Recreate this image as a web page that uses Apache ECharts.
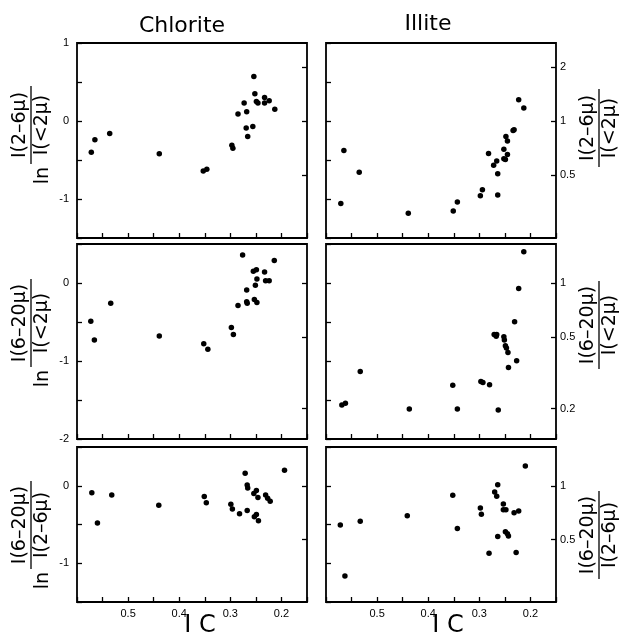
<!DOCTYPE html>
<html>
<head>
<meta charset="utf-8">
<script src="https://cdn.jsdelivr.net/npm/echarts@6/dist/echarts.min.js"></script>
<style>html,body{margin:0;padding:0;background:#fff}#c{width:624px;height:637px}</style>
</head>
<body>
<div id="c"></div>
<script>
// ---- data (IC on x; left column: ln ratio; right column: ratio, log scale) ----
const colTitles = ['Chlorite', 'Illite'];
const xTickLabels = [0.5, 0.4, 0.3, 0.2];

const chl26_ic = [0.572,0.565,0.536,0.439,0.353,0.346,0.297,0.295,0.285,0.273,0.268,0.269,0.266,0.256,0.254,0.252,0.249,0.246,0.233,0.233,0.224,0.213];
const chl26_ln = [-0.40,-0.24,-0.16,-0.42,-0.64,-0.62,-0.31,-0.35,0.09,0.23,0.12,-0.09,-0.20,-0.07,0.57,0.35,0.25,0.23,0.30,0.23,0.26,0.15];

const ill26_ic = [0.571,0.565,0.535,0.439,0.351,0.343,0.298,0.294,0.282,0.272,0.266,0.264,0.264,0.252,0.252,0.249,0.248,0.245,0.245,0.234,0.232,0.223,0.213];
const ill26_r  = [0.347,0.685,0.519,0.306,0.315,0.354,0.384,0.414,0.660,0.567,0.599,0.508,0.387,0.617,0.697,0.611,0.821,0.651,0.774,0.885,0.893,1.314,1.183];

const chl620_ic = [0.573,0.566,0.534,0.439,0.352,0.344,0.298,0.294,0.285,0.276,0.268,0.268,0.267,0.255,0.251,0.253,0.249,0.248,0.248,0.233,0.231,0.224,0.214];
const chl620_ln = [-0.49,-0.73,-0.26,-0.68,-0.78,-0.85,-0.57,-0.66,-0.29,0.36,-0.09,-0.24,-0.26,0.15,-0.03,-0.21,0.17,0.05,-0.25,0.14,0.03,0.03,0.29];

const ill620_ic = [0.569,0.562,0.533,0.437,0.352,0.343,0.297,0.293,0.280,0.271,0.267,0.266,0.263,0.252,0.251,0.249,0.247,0.244,0.243,0.231,0.227,0.223,0.213];
const ill620_r  = [0.209,0.214,0.322,0.199,0.270,0.199,0.283,0.279,0.271,0.516,0.506,0.516,0.196,0.502,0.481,0.447,0.435,0.410,0.339,0.609,0.369,0.933,1.493];

const chlR_ic = [0.571,0.560,0.532,0.440,0.351,0.347,0.299,0.296,0.282,0.271,0.267,0.266,0.267,0.254,0.249,0.246,0.253,0.249,0.245,0.231,0.227,0.222,0.194];
const chlR_ln = [-0.09,-0.48,-0.12,-0.25,-0.14,-0.22,-0.24,-0.30,-0.36,0.16,0.01,-0.03,-0.32,-0.10,-0.06,-0.15,-0.40,-0.37,-0.45,-0.12,-0.16,-0.20,0.20];

const illR_ic = [0.572,0.563,0.533,0.441,0.352,0.343,0.298,0.296,0.281,0.270,0.266,0.264,0.264,0.253,0.253,0.248,0.249,0.245,0.243,0.232,0.228,0.223,0.210];
const illR_r  = [0.602,0.312,0.632,0.678,0.884,0.576,0.751,0.693,0.419,0.924,0.872,1.013,0.520,0.791,0.734,0.734,0.553,0.539,0.523,0.705,0.423,0.721,1.292];

// axis ranges (ln units) and ratio tick labels per row
const rowLnRange = [[-1.5, 1], [-2, 0.5], [-1.5, 0.5]];
const rowRatioTicks = [[2, 1, 0.5], [1, 0.5, 0.2], [1, 0.5]];
const rowNum = ['I(2–6μ)', 'I(6–20μ)', 'I(6–20μ)'];
const rowDen = ['I(<2μ)', 'I(<2μ)', 'I(2–6μ)'];

// ---- layout ----
const cols = [{left: 77, width: 230}, {left: 326, width: 230}];
const rows = [{top: 43, height: 195}, {top: 244, height: 195}, {top: 447, height: 155}];

const panels = [
  {r:0, c:0, ic: chl26_ic,  v: chl26_ln,  ratio:false},
  {r:0, c:1, ic: ill26_ic,  v: ill26_r,   ratio:true},
  {r:1, c:0, ic: chl620_ic, v: chl620_ln, ratio:false},
  {r:1, c:1, ic: ill620_ic, v: ill620_r,  ratio:true},
  {r:2, c:0, ic: chlR_ic,   v: chlR_ln,   ratio:false},
  {r:2, c:1, ic: illR_ic,   v: illR_r,    ratio:true}
];

const grid = [], xAxis = [], yAxis = [], series = [];
const tickStyle = {color: '#000', width: 1.3};
const fmtRatio = v => String(parseFloat(Math.exp(v).toFixed(2)));

panels.forEach((p, i) => {
  const [mn, mx] = rowLnRange[p.r];
  const lnTicks = rowRatioTicks[p.r].map(Math.log);
  grid.push({
    left: cols[p.c].left, width: cols[p.c].width,
    top: rows[p.r].top, height: rows[p.r].height,
    show: true, borderColor: '#000', borderWidth: 1.8, backgroundColor: 'transparent'
  });
  xAxis.push({
    type: 'value', gridIndex: i, inverse: true, min: 0.15, max: 0.6, interval: 0.05,
    position: 'bottom',
    axisLine: {show: false, onZero: false},
    axisTick: {show: true, inside: true, length: 5, lineStyle: tickStyle},
    axisLabel: {
      show: p.r === 2, color: '#000', fontSize: 11, margin: 6, fontFamily: 'Liberation Sans',
      formatter: v => {
        const hit = xTickLabels.find(t => Math.abs(t - v) < 1e-6);
        return hit !== undefined ? hit.toFixed(1) : '';
      }
    },
    splitLine: {show: false}
  });
  yAxis.push({
    type: 'value', gridIndex: i, position: 'left', min: mn, max: mx, interval: 0.5,
    axisLine: {show: false, onZero: false},
    axisTick: {show: true, inside: true, length: 5, lineStyle: tickStyle},
    axisLabel: {
      show: p.c === 0, color: '#000', fontSize: 11, margin: 8, fontFamily: 'Liberation Sans',
      formatter: v => (Math.abs(v - Math.round(v)) < 1e-6 ? String(Math.round(v)) : '')
    },
    splitLine: {show: false}
  });
  yAxis.push({
    type: 'value', gridIndex: i, position: 'right', min: mn, max: mx,
    axisLine: {show: false, onZero: false},
    axisTick: {show: true, inside: true, length: 5, lineStyle: tickStyle, customValues: lnTicks},
    axisLabel: {
      show: p.c === 1, color: '#000', fontSize: 11, margin: 4, fontFamily: 'Liberation Sans',
      customValues: lnTicks, formatter: fmtRatio
    },
    splitLine: {show: false}
  });
  series.push({
    type: 'scatter', xAxisIndex: i, yAxisIndex: 2 * i,
    data: p.ic.map((x, j) => [x, p.ratio ? Math.log(p.v[j]) : p.v[j]]),
    symbol: 'circle', symbolSize: 5.5,
    itemStyle: {color: '#000', opacity: 1}, silent: true
  });
});

// ---- text graphics ----
const FONT = '19px "DejaVu Sans"';
function txt(x, y, text, align, valign, font) {
  return {type: 'text', x, y, style: {text, font: font || FONT, fill: '#000',
    align, verticalAlign: valign, textAlign: align, textVerticalAlign: valign}};
}
function fracLabel(cx, cy, num, den, withLn, w) {
  const children = [
    txt(0, -1, num, 'center', 'bottom'),
    {type: 'line', shape: {x1: -w / 2, y1: 0, x2: w / 2, y2: 0}, style: {stroke: '#000', lineWidth: 1.3}},
    txt(0, 2, den, 'center', 'top')
  ];
  if (withLn) children.push(txt(-w / 2 - 3, 3, 'ln', 'right', 'top'));
  return {type: 'group', x: cx, y: cy, rotation: Math.PI / 2, children};
}

const leftCy = [125, 323, 525], rightCy = [128, 325, 535], fracW = [78, 88, 88];
const graphic = [
  txt(182, 26, colTitles[0], 'center', 'middle', '22px "DejaVu Sans"'),
  txt(428, 24, colTitles[1], 'center', 'middle', '22px "DejaVu Sans"'),
  txt(200, 626, 'I C', 'center', 'middle', '24px "DejaVu Sans"'),
  txt(448, 626, 'I C', 'center', 'middle', '24px "DejaVu Sans"')
];
for (let r = 0; r < 3; r++) {
  graphic.push(fracLabel(31, leftCy[r], rowNum[r], rowDen[r], true, fracW[r]));
  graphic.push(fracLabel(599, rightCy[r], rowNum[r], rowDen[r], false, fracW[r]));
}

const chart = echarts.init(document.getElementById('c'), null, {renderer: 'canvas'});
chart.setOption({
  animation: false,
  backgroundColor: '#fff',
  textStyle: {fontFamily: 'Liberation Sans'},
  grid, xAxis, yAxis, series, graphic
});
</script>
</body>
</html>
